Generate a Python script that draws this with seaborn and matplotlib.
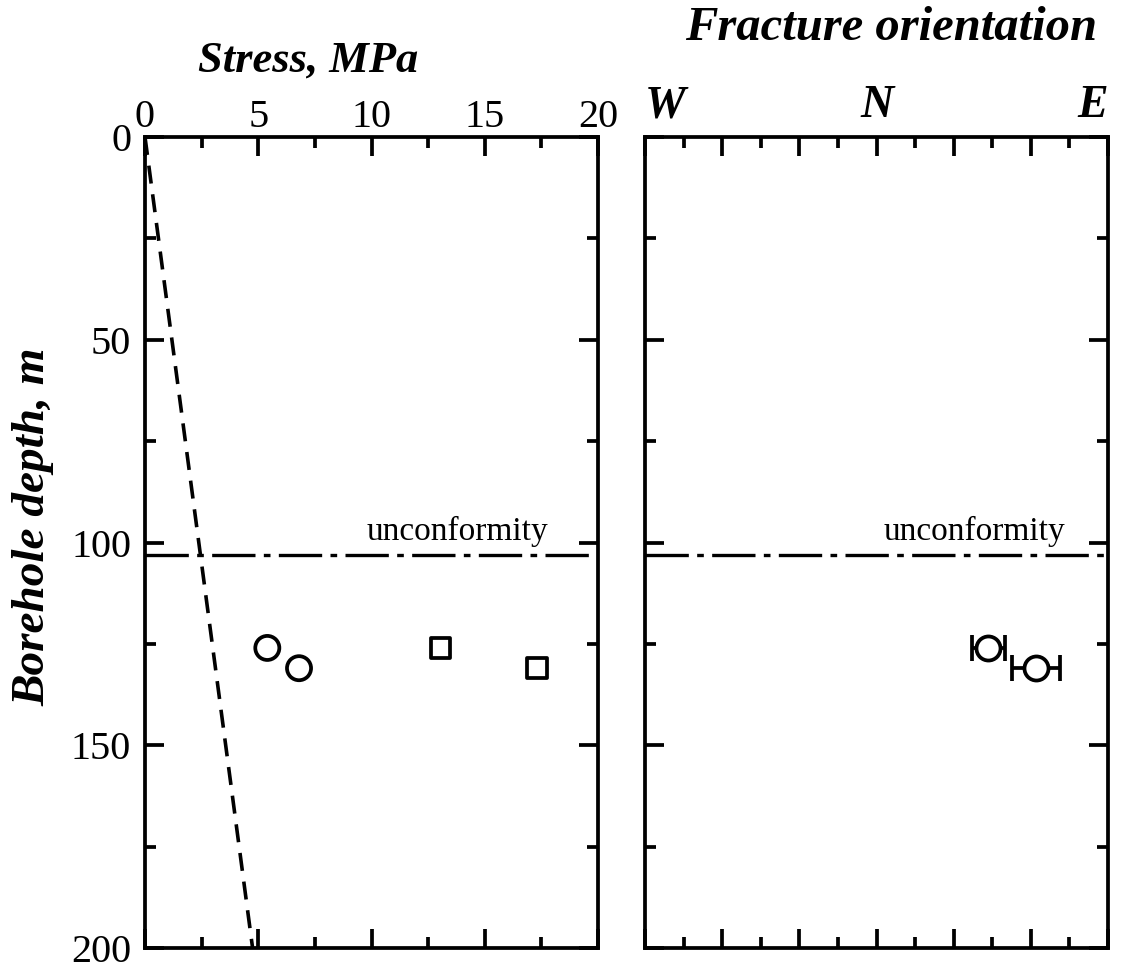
import matplotlib
matplotlib.use("Agg")
import matplotlib.pyplot as plt
from matplotlib.ticker import MultipleLocator
import numpy as np
import pandas as pd
import seaborn as sns

# Depth profile of stress and hydraulic-fracture orientation
depth_limits = [0, 200]
unconformity_depth = 103

# Overburden (vertical) stress trend
overburden_depth = [0, 200]
overburden_stress = [0.0, 4.75]

# Minimum and maximum horizontal stress at the test depths
test_depth = [126, 131]
shmin = [5.4, 6.8]
shmax = [13.05, 17.3]

# Fracture strike, degrees from N (W = -90, E = +90)
strike = [43.5, 62.0]
strike_err = [6.5, 9.5]

stress_ticks = [0, 5, 10, 15, 20]
orient_labels = ["W", "", "", "N", "", "", "E"]

sns.set_theme(style="ticks")
plt.rcParams["font.family"] = ["Liberation Serif", "DejaVu Serif"]
for key in ("text.color", "axes.labelcolor", "xtick.color", "ytick.color",
            "axes.edgecolor"):
    plt.rcParams[key] = "black"

fig = plt.figure(figsize=(11.22, 9.63), dpi=100)
ax1 = fig.add_axes([145 / 1122, 15 / 963, 453 / 1122, 811 / 963])
ax2 = fig.add_axes([645 / 1122, 15 / 963, 463 / 1122, 811 / 963])

stress_df = pd.DataFrame({"depth": test_depth, "shmin": shmin, "shmax": shmax})
orient_df = pd.DataFrame({"depth": test_depth, "strike": strike, "err": strike_err})

lw = 2.7
for ax in (ax1, ax2):
    for s in ax.spines.values():
        s.set_linewidth(lw)
        s.set_color("black")
    ax.set_ylim(depth_limits[1], depth_limits[0])
    ax.yaxis.set_major_locator(MultipleLocator(50))
    ax.yaxis.set_minor_locator(MultipleLocator(25))
    ax.tick_params(which="both", direction="in", top=True, bottom=True,
                   left=True, right=True, labelbottom=False, labeltop=True,
                   color="black", labelcolor="black", width=lw)
    ax.tick_params(which="major", length=14)
    ax.tick_params(which="minor", length=8)
    ax.set_facecolor("white")
    ax.grid(False)

# Left panel: stress profile
sns.lineplot(x=overburden_stress, y=overburden_depth, ax=ax1, color="black",
             lw=2.6, linestyle=(0, (5, 3)), sort=False, estimator=None)
sns.scatterplot(data=stress_df, x="shmin", y="depth", ax=ax1, marker="o",
                s=300, facecolor="none", edgecolor="black", linewidth=2.7,
                zorder=5)
sns.scatterplot(data=stress_df, x="shmax", y="depth", ax=ax1, marker="s",
                s=200, facecolor="none", edgecolor="black", linewidth=2.7,
                zorder=5)
ax1.set_xlim(0, 20)
ax1.set_xticks(stress_ticks)
ax1.xaxis.set_minor_locator(MultipleLocator(2.5))
ax1.tick_params(axis="x", labelsize=29, pad=1)
ax1.tick_params(axis="y", labelsize=29, pad=10)
ax1.set_xlabel("")
ax1.set_ylabel("Borehole depth, m", fontsize=34, fontweight="bold",
               fontstyle="italic", labelpad=10)
ax1.yaxis.set_label_coords(-0.2, 0.52)
ax1.text(0.36, 1.081, "Stress, MPa", transform=ax1.transAxes, ha="center",
         va="baseline", fontsize=32, fontweight="bold", fontstyle="italic")

# Right panel: fracture orientation
ax2.errorbar(orient_df["strike"], orient_df["depth"], xerr=orient_df["err"],
             fmt="none", ecolor="black", elinewidth=2.7, capsize=9.5,
             capthick=2.7, zorder=4)
sns.scatterplot(data=orient_df, x="strike", y="depth", ax=ax2, marker="o",
                s=300, facecolor="white", edgecolor="black", linewidth=2.7,
                zorder=5)
ax2.set_xlim(-90, 90)
ax2.set_xticks(np.arange(-90, 91, 30))
ax2.xaxis.set_minor_locator(MultipleLocator(15))
ax2.set_xticklabels(orient_labels, fontsize=33, fontweight="bold",
                    fontstyle="italic")
tl = ax2.get_xticklabels()
tl[0].set_ha("left")
tl[-1].set_ha("right")
ax2.tick_params(axis="x", pad=7)
ax2.tick_params(axis="y", labelleft=False)
ax2.set_xlabel("")
ax2.set_ylabel("")
ax2.text(0.531, 1.12, "Fracture orientation", transform=ax2.transAxes,
         ha="center", va="baseline", fontsize=35, fontweight="bold",
         fontstyle="italic")

# Unconformity marker in both panels
for ax, xt in ((ax1, 0.89), (ax2, 0.907)):
    ax.axhline(unconformity_depth, color="black", lw=2.4,
               linestyle=(0, (13, 2.5, 2, 2.5)))
    ax.text(xt, unconformity_depth - 2, "unconformity",
            transform=ax.get_yaxis_transform(), ha="right", va="bottom",
            fontsize=24)

fig.savefig("out.png", dpi=100, facecolor="white")
